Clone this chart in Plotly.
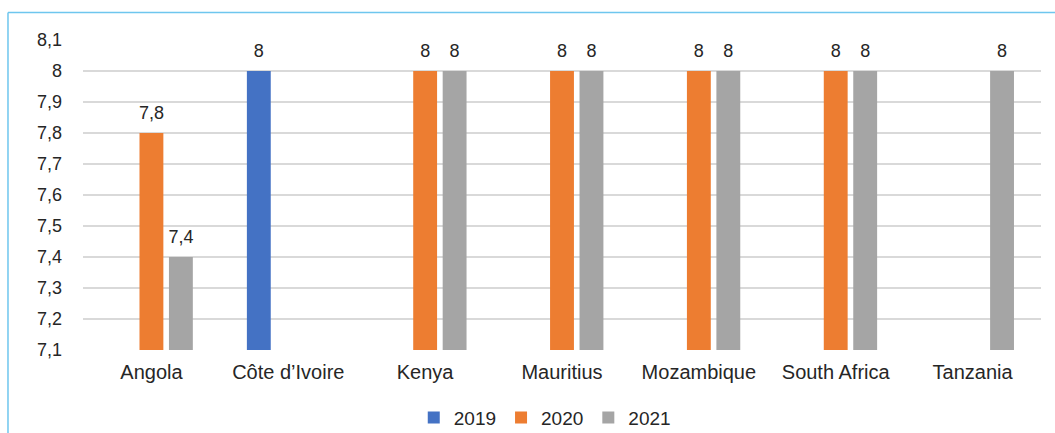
import plotly.graph_objects as go

categories = ["Angola", "Côte d’Ivoire", "Kenya", "Mauritius", "Mozambique", "South Africa", "Tanzania"]
years = ["2019", "2020", "2021"]
v2019 = [None, 8, None, None, None, None, None]
v2020 = [7.8, None, 8, 8, 8, 8, None]
v2021 = [7.4, None, 8, 8, 8, 8, 8]
colors = ["#4472C4", "#ED7D31", "#A5A5A5"]
tick_vals = [7.1, 7.2, 7.3, 7.4, 7.5, 7.6, 7.7, 7.8, 7.9, 8.0, 8.1]
tick_text = ["7,1", "7,2", "7,3", "7,4", "7,5", "7,6", "7,7", "7,8", "7,9", "8", "8,1"]

FONT = "Liberation Sans, Arial, Helvetica, sans-serif"

def fmt(v):
    if v is None:
        return ""
    return ("%g" % v).replace(".", ",")

fig = go.Figure()
series = list(zip(years, [v2019, v2020, v2021], colors))
for name, vals, col in series:
    fig.add_trace(go.Bar(
        x=categories, y=vals, name=name, offsetgroup=name,
        marker=dict(color=col, line=dict(width=0)),
        hoverinfo="x+y+name",
    ))
for name, vals, col in series:
    fig.add_trace(go.Scatter(
        x=categories, y=vals, name=name, offsetgroup=name,
        mode="markers+text", text=[fmt(v) for v in vals], textposition="top center",
        marker=dict(size=14, opacity=0, color=col),
        textfont=dict(size=18, color="#262626", family=FONT),
        showlegend=False, hoverinfo="skip", cliponaxis=False,
    ))

fig.update_layout(
    width=1055, height=433,
    margin=dict(l=83, r=14, t=40, b=83, autoexpand=False),
    paper_bgcolor="white", plot_bgcolor="white",
    barmode="group", bargap=0.354, bargroupgap=0.19,
    scattermode="group", scattergap=0.354,
    font=dict(family=FONT, size=18, color="#262626"),
    separators=", ",
    showlegend=True,
    legend=dict(orientation="h", x=0.482, xanchor="center", y=-0.218, yanchor="middle",
                font=dict(size=19), traceorder="normal", itemwidth=30),
    xaxis=dict(showgrid=False, showline=False, ticks="", tickfont=dict(size=20),
               ticklabelstandoff=8),
    yaxis=dict(range=[7.1, 8.1], tickvals=tick_vals, ticktext=tick_text,
               showgrid=True, gridcolor="#D9D9D9", gridwidth=1.5, zeroline=False,
               showline=False, ticks="", ticklabelstandoff=20, tickfont=dict(size=18)),
    shapes=[
        dict(type="line", xref="paper", yref="paper", x0=-0.0783, x1=1.02, y0=1.0887, y1=1.0887,
             line=dict(color="#6EC6EE", width=1.5)),
        dict(type="line", xref="paper", yref="paper", x0=-0.0783, x1=-0.0783, y0=1.0887, y1=-0.3,
             line=dict(color="#6EC6EE", width=1.5)),
    ],
)
fig.write_html("out.html", config={"displayModeBar": False},
               post_script="document.body.style.margin='0';document.body.style.overflow='hidden';")
